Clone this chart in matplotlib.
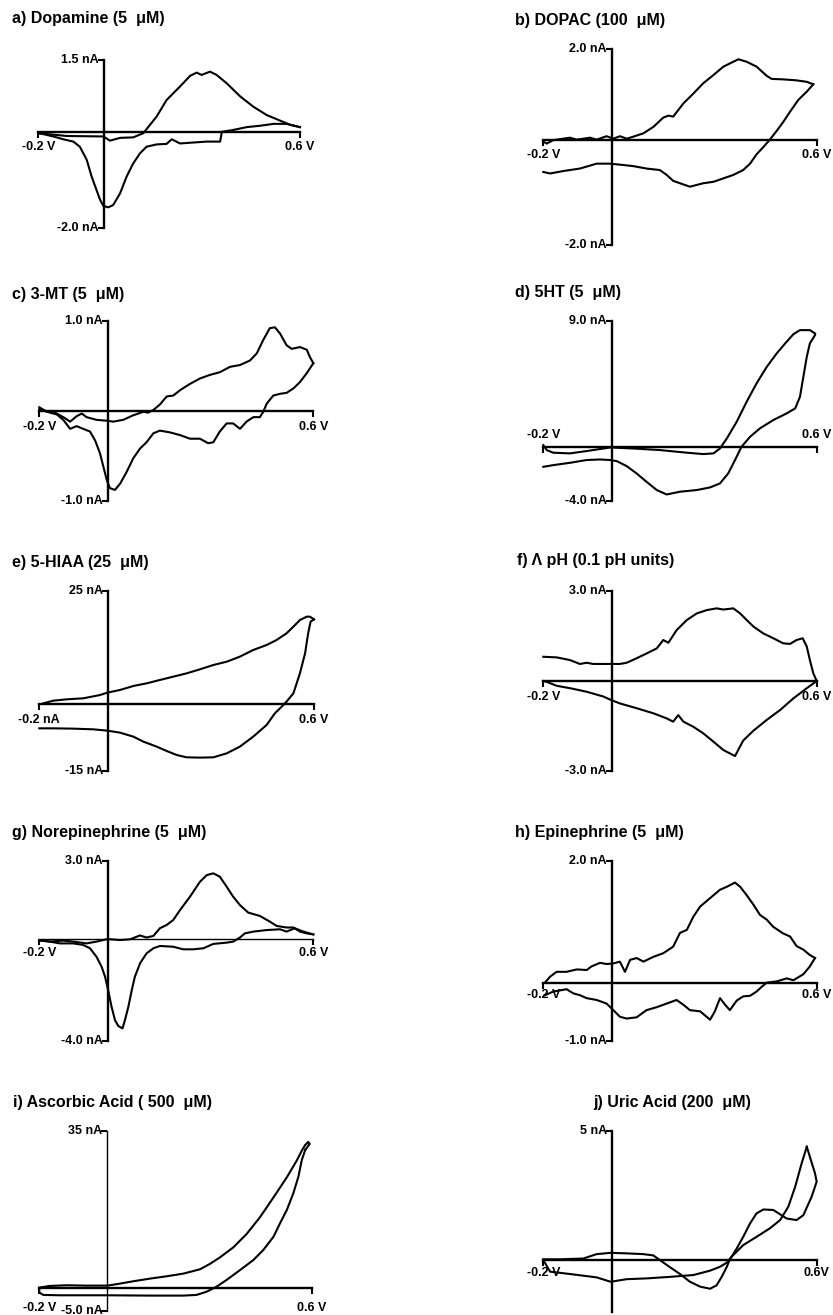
import matplotlib.pyplot as plt

W, H = 833, 1315
plt.rcParams['font.family'] = ['Liberation Sans', 'DejaVu Sans']

# cyclic voltammograms, (V, nA)
# a) dopamine
dopamine_ox = [(-0.2, -0.02), (-0.113, -0.08), (-0.001, -0.09), (0.019, -0.18), (0.05, -0.12),
               (0.09, -0.11), (0.121, -0.02), (0.162, 0.34), (0.192, 0.69), (0.233, 0.98),
               (0.264, 1.21), (0.284, 1.28), (0.299, 1.23), (0.325, 1.30), (0.345, 1.23),
               (0.376, 1.05), (0.417, 0.77), (0.457, 0.55), (0.498, 0.37), (0.539, 0.25),
               (0.57, 0.16), (0.6, 0.11)]
dopamine_red = [(0.6, 0.11), (0.559, 0.18), (0.519, 0.18), (0.478, 0.14), (0.437, 0.11),
                (0.396, 0.05), (0.361, 0.01), (0.356, -0.20), (0.315, -0.20), (0.274, -0.22),
                (0.233, -0.24), (0.208, -0.15), (0.192, -0.25), (0.162, -0.26), (0.131, -0.31),
                (0.111, -0.45), (0.09, -0.67), (0.07, -0.95), (0.05, -1.31), (0.029, -1.56),
                (0.014, -1.61), (-0.001, -1.58), (-0.011, -1.45), (-0.022, -1.24), (-0.037, -0.95),
                (-0.052, -0.59), (-0.073, -0.31), (-0.093, -0.20), (-0.124, -0.15), (-0.154, -0.09),
                (-0.185, -0.04), (-0.2, -0.02)]

# b) DOPAC
dopac_ox = [(-0.2, -0.03), (-0.19, -0.07), (-0.171, 0.0), (-0.122, 0.05), (-0.102, 0.01),
            (-0.063, 0.05), (-0.044, 0.01), (-0.015, 0.08), (0.005, 0.03), (0.024, 0.08),
            (0.044, 0.03), (0.063, 0.07), (0.093, 0.14), (0.122, 0.27), (0.151, 0.46),
            (0.166, 0.50), (0.18, 0.48), (0.21, 0.75), (0.239, 0.95), (0.268, 1.16),
            (0.298, 1.33), (0.327, 1.50), (0.356, 1.60), (0.371, 1.65), (0.395, 1.60),
            (0.424, 1.50), (0.454, 1.31), (0.468, 1.25), (0.502, 1.24), (0.541, 1.22),
            (0.571, 1.19), (0.59, 1.14)]
dopac_red = [(0.59, 1.14), (0.571, 0.99), (0.546, 0.82), (0.522, 0.58), (0.502, 0.37),
             (0.483, 0.19), (0.463, 0.01), (0.444, -0.14), (0.424, -0.29), (0.405, -0.48),
             (0.385, -0.61), (0.356, -0.71), (0.327, -0.78), (0.298, -0.85), (0.268, -0.88),
             (0.229, -0.95), (0.2, -0.88), (0.18, -0.83), (0.161, -0.71), (0.141, -0.61),
             (0.102, -0.58), (0.063, -0.53), (0.024, -0.50), (-0.005, -0.48), (-0.044, -0.48),
             (-0.093, -0.58), (-0.141, -0.63), (-0.18, -0.68), (-0.2, -0.65)]

# c) 3-MT
mt_ox = [(-0.2, 0.04), (-0.179, -0.01), (-0.154, -0.02), (-0.13, -0.07), (-0.11, -0.12),
         (-0.091, -0.06), (-0.076, -0.03), (-0.062, -0.07), (-0.033, -0.10), (-0.003, -0.11),
         (0.016, -0.12), (0.045, -0.10), (0.074, -0.05), (0.104, -0.01), (0.118, -0.02),
         (0.133, 0.01), (0.152, 0.07), (0.172, 0.16), (0.191, 0.17), (0.211, 0.23),
         (0.24, 0.30), (0.269, 0.36), (0.298, 0.40), (0.327, 0.43), (0.357, 0.49),
         (0.386, 0.51), (0.415, 0.56), (0.435, 0.64), (0.454, 0.79), (0.473, 0.92),
         (0.488, 0.93), (0.503, 0.86), (0.522, 0.73), (0.537, 0.69), (0.561, 0.71),
         (0.581, 0.68), (0.59, 0.60), (0.6, 0.53)]
mt_red = [(0.6, 0.53), (0.581, 0.42), (0.561, 0.32), (0.542, 0.25), (0.522, 0.20),
          (0.503, 0.19), (0.483, 0.17), (0.464, 0.08), (0.454, -0.01), (0.444, -0.07),
          (0.425, -0.07), (0.405, -0.12), (0.386, -0.20), (0.366, -0.14), (0.347, -0.14),
          (0.327, -0.23), (0.308, -0.35), (0.293, -0.36), (0.269, -0.31), (0.24, -0.31),
          (0.211, -0.27), (0.182, -0.24), (0.152, -0.22), (0.133, -0.25), (0.113, -0.35),
          (0.094, -0.42), (0.074, -0.53), (0.055, -0.68), (0.036, -0.81), (0.021, -0.88),
          (0.006, -0.86), (-0.003, -0.77), (-0.013, -0.62), (-0.023, -0.47), (-0.037, -0.33),
          (-0.052, -0.23), (-0.072, -0.20), (-0.091, -0.17), (-0.11, -0.20), (-0.13, -0.10),
          (-0.149, -0.04), (-0.169, -0.02), (-0.188, 0.01), (-0.2, 0.02)]

# d) 5HT
ht_ox = [(-0.2, 0.12), (-0.19, -0.24), (-0.171, -0.43), (-0.122, -0.48), (-0.073, -0.31),
         (-0.003, -0.05), (0.073, -0.14), (0.141, -0.24), (0.22, -0.43), (0.268, -0.53),
         (0.298, -0.48), (0.317, -0.12), (0.337, 0.60), (0.366, 1.81), (0.395, 3.25),
         (0.424, 4.58), (0.454, 5.78), (0.483, 6.75), (0.512, 7.59), (0.532, 8.14),
         (0.551, 8.43), (0.58, 8.43), (0.595, 8.19)]
ht_red = [(0.595, 8.07), (0.58, 7.47), (0.571, 6.51), (0.561, 5.06), (0.551, 3.61),
          (0.537, 2.77), (0.512, 2.41), (0.473, 1.93), (0.434, 1.33), (0.405, 0.72),
          (0.38, 0.0), (0.361, -0.96), (0.341, -1.93), (0.317, -2.65), (0.288, -2.94),
          (0.249, -3.13), (0.2, -3.25), (0.161, -3.45), (0.132, -3.13), (0.102, -2.53),
          (0.073, -1.93), (0.044, -1.40), (0.015, -1.04), (-0.005, -0.96), (-0.034, -0.92),
          (-0.073, -0.96), (-0.122, -1.16), (-0.171, -1.33), (-0.2, -1.45)]

# e) 5-HIAA
hiaa_ox = [(-0.188, 0.15), (-0.159, 0.74), (-0.12, 1.04), (-0.072, 1.26), (-0.023, 2.00),
           (-0.002, 2.52), (0.035, 3.12), (0.074, 4.01), (0.113, 4.60), (0.151, 5.34),
           (0.19, 6.08), (0.229, 6.82), (0.268, 7.72), (0.307, 8.68), (0.346, 9.42),
           (0.384, 10.53), (0.423, 12.02), (0.462, 13.13), (0.491, 14.24), (0.52, 15.73),
           (0.54, 17.21), (0.559, 18.69), (0.579, 19.44), (0.588, 19.44), (0.6, 18.84)]
hiaa_red = [(0.6, 18.84), (0.59, 18.32), (0.583, 15.73), (0.574, 11.28), (0.559, 6.82),
            (0.54, 2.37), (0.52, 0.52), (0.506, -0.59), (0.486, -2.08), (0.462, -4.67),
            (0.423, -7.27), (0.384, -9.50), (0.346, -10.98), (0.307, -11.87), (0.268, -11.94),
            (0.229, -11.87), (0.2, -11.35), (0.171, -10.46), (0.142, -9.50), (0.103, -8.38),
            (0.074, -7.27), (0.035, -6.38), (-0.002, -5.93), (-0.043, -5.64), (-0.101, -5.49),
            (-0.159, -5.42), (-0.2, -5.42)]

# f) pH change
ph_up = [(-0.2, 0.81), (-0.161, 0.79), (-0.122, 0.70), (-0.093, 0.57), (-0.073, 0.61),
         (-0.054, 0.57), (-0.015, 0.57), (0.024, 0.57), (0.044, 0.61), (0.073, 0.76),
         (0.102, 0.92), (0.132, 1.09), (0.151, 1.37), (0.166, 1.28), (0.19, 1.70),
         (0.22, 2.04), (0.249, 2.26), (0.278, 2.37), (0.307, 2.43), (0.327, 2.39),
         (0.356, 2.43), (0.376, 2.26), (0.395, 2.04), (0.415, 1.82), (0.444, 1.59),
         (0.473, 1.43), (0.502, 1.26), (0.522, 1.24), (0.541, 1.37), (0.559, 1.43),
         (0.571, 1.15), (0.58, 0.70), (0.59, 0.26), (0.6, 0.0)]
ph_down = [(0.6, 0.0), (0.571, -0.24), (0.532, -0.58), (0.493, -0.97), (0.454, -1.30),
           (0.415, -1.66), (0.385, -1.99), (0.361, -2.51), (0.327, -2.31), (0.298, -2.03),
           (0.268, -1.75), (0.239, -1.53), (0.21, -1.36), (0.195, -1.14), (0.18, -1.36),
           (0.161, -1.25), (0.122, -1.08), (0.073, -0.91), (0.024, -0.75), (-0.003, -0.63),
           (-0.024, -0.52), (-0.073, -0.36), (-0.122, -0.24), (-0.161, -0.16), (-0.19, -0.03),
           (-0.2, 0.0)]

# g) norepinephrine
ne_ox = [(-0.2, -0.04), (-0.169, -0.10), (-0.13, -0.06), (-0.101, -0.10), (-0.062, -0.17),
         (-0.033, -0.10), (-0.001, 0.0), (0.036, -0.04), (0.065, -0.01), (0.094, 0.14),
         (0.113, 0.06), (0.133, 0.12), (0.152, 0.42), (0.172, 0.55), (0.191, 0.74),
         (0.211, 1.13), (0.24, 1.65), (0.269, 2.23), (0.289, 2.49), (0.308, 2.56),
         (0.327, 2.43), (0.347, 2.04), (0.366, 1.65), (0.386, 1.32), (0.41, 1.03),
         (0.444, 0.90), (0.473, 0.68), (0.493, 0.51), (0.522, 0.45), (0.542, 0.45),
         (0.561, 0.29), (0.581, 0.22), (0.6, 0.18)]
ne_red = [(0.6, 0.18), (0.571, 0.29), (0.546, 0.42), (0.522, 0.29), (0.503, 0.38),
          (0.464, 0.35), (0.425, 0.29), (0.4, 0.22), (0.386, 0.06), (0.366, -0.10),
          (0.347, -0.14), (0.308, -0.19), (0.279, -0.36), (0.25, -0.40), (0.22, -0.40),
          (0.191, -0.30), (0.152, -0.27), (0.133, -0.36), (0.113, -0.56), (0.094, -0.95),
          (0.079, -1.47), (0.07, -1.99), (0.06, -2.64), (0.05, -3.16), (0.043, -3.48),
          (0.031, -3.39), (0.021, -3.16), (0.011, -2.64), (0.001, -1.99), (-0.008, -1.47),
          (-0.018, -1.08), (-0.033, -0.69), (-0.052, -0.36), (-0.072, -0.23), (-0.101, -0.17),
          (-0.14, -0.17), (-0.169, -0.10), (-0.2, -0.06)]

# h) epinephrine
epi_ox = [(-0.195, 0.0), (-0.18, 0.10), (-0.161, 0.18), (-0.132, 0.18), (-0.102, 0.22),
          (-0.073, 0.21), (-0.059, 0.27), (-0.034, 0.33), (-0.015, 0.31), (0.005, 0.32),
          (0.024, 0.35), (0.039, 0.18), (0.054, 0.38), (0.073, 0.41), (0.093, 0.35),
          (0.122, 0.43), (0.151, 0.49), (0.18, 0.60), (0.2, 0.83), (0.22, 0.88),
          (0.239, 1.10), (0.259, 1.27), (0.288, 1.41), (0.317, 1.55), (0.337, 1.60),
          (0.361, 1.67), (0.376, 1.60), (0.395, 1.46), (0.415, 1.30), (0.434, 1.13),
          (0.454, 1.05), (0.473, 0.93), (0.502, 0.82), (0.522, 0.77), (0.541, 0.61),
          (0.561, 0.55), (0.58, 0.46), (0.595, 0.41)]
epi_red = [(0.595, 0.41), (0.58, 0.27), (0.561, 0.14), (0.532, 0.04), (0.512, 0.07),
           (0.483, 0.02), (0.454, 0.0), (0.439, -0.07), (0.424, -0.15), (0.405, -0.22),
           (0.385, -0.23), (0.366, -0.30), (0.346, -0.46), (0.332, -0.37), (0.317, -0.26),
           (0.302, -0.48), (0.288, -0.62), (0.259, -0.48), (0.229, -0.46), (0.21, -0.37),
           (0.19, -0.29), (0.161, -0.35), (0.132, -0.41), (0.102, -0.46), (0.073, -0.58),
           (0.044, -0.60), (0.024, -0.57), (0.005, -0.46), (-0.015, -0.35), (-0.044, -0.29),
           (-0.073, -0.26), (-0.093, -0.21), (-0.112, -0.18), (-0.132, -0.11), (-0.151, -0.13),
           (-0.171, -0.15), (-0.195, -0.21)]

# i) ascorbic acid
aa_ox = [(-0.2, 0.15), (-0.169, 0.52), (-0.12, 0.67), (-0.061, 0.59), (0.0, 0.59),
         (0.037, 1.04), (0.076, 1.56), (0.125, 2.15), (0.174, 2.67), (0.223, 3.26),
         (0.272, 4.23), (0.301, 5.42), (0.331, 6.90), (0.37, 9.12), (0.409, 12.09),
         (0.448, 15.80), (0.488, 20.25), (0.527, 24.70), (0.556, 28.41), (0.571, 30.64),
         (0.581, 31.90), (0.59, 32.57), (0.594, 32.12), (0.581, 30.79)]
aa_red = [(0.581, 30.79), (0.571, 28.56), (0.561, 24.85), (0.546, 21.14), (0.527, 17.43),
          (0.507, 14.47), (0.488, 11.50), (0.458, 8.53), (0.429, 6.31), (0.39, 4.08),
          (0.35, 1.85), (0.321, 0.37), (0.292, -0.74), (0.262, -1.48), (0.223, -1.63),
          (0.125, -1.63), (0.0, -1.56), (-0.071, -1.56), (-0.139, -1.56), (-0.188, -1.48),
          (-0.2, -0.96), (-0.2, -0.22)]

# j) uric acid
ua_ox = [(-0.2, 0.03), (-0.151, 0.03), (-0.083, 0.06), (-0.044, 0.23), (-0.003, 0.28),
         (0.044, 0.26), (0.093, 0.23), (0.122, 0.18), (0.141, 0.0), (0.171, -0.28),
         (0.2, -0.54), (0.229, -0.84), (0.259, -1.03), (0.288, -1.11), (0.307, -0.98),
         (0.322, -0.65), (0.337, -0.26), (0.346, 0.03), (0.366, 0.45), (0.385, 0.90),
         (0.405, 1.42), (0.424, 1.81), (0.444, 1.96), (0.473, 1.94), (0.512, 1.61),
         (0.541, 1.55), (0.561, 1.74), (0.585, 2.45), (0.6, 3.04), (0.595, 3.36),
         (0.571, 4.39)]
ua_red = [(0.571, 4.39), (0.556, 3.75), (0.537, 2.84), (0.517, 2.07), (0.493, 1.55),
          (0.463, 1.23), (0.424, 0.90), (0.385, 0.58), (0.351, 0.13), (0.337, -0.10),
          (0.317, -0.26), (0.288, -0.41), (0.239, -0.58), (0.171, -0.65), (0.102, -0.71),
          (0.044, -0.74), (-0.003, -0.84), (-0.044, -0.67), (-0.122, -0.54), (-0.18, -0.45),
          (-0.2, 0.0)]

# layout in pixels: title pos, axes box (x left, x right, y top, y bottom), y limits
panels = [
    dict(title='a) Dopamine (5  μM)', tpos=(12, 18), box=(38.3, 300, 60, 228.3), ylim=(-2.06, 1.55),
         ylab=('1.5 nA', '-2.0 nA'), xlab=('-0.2 V', '0.6 V'), xdy=15, curves=[dopamine_ox, dopamine_red]),
    dict(title='b) DOPAC (100  μM)', tpos=(515, 20), box=(543.3, 816.7, 49, 245), ylim=(-2.14, 1.86),
         ylab=('2.0 nA', '-2.0 nA'), xlab=('-0.2 V', '0.6 V'), xdy=15, curves=[dopac_ox, dopac_red]),
    dict(title='c) 3-MT (5  μM)', tpos=(12, 295), box=(39.3, 313.3, 321, 500.7), ylim=(-1.0, 1.0),
         ylab=('1.0 nA', '-1.0 nA'), xlab=('-0.2 V', '0.6 V'), xdy=16, curves=[mt_ox, mt_red]),
    dict(title='d) 5HT (5  μM)', tpos=(515, 292), box=(543.3, 816.7, 321, 500.7), ylim=(-3.9, 9.09),
         ylab=('9.0 nA', '-4.0 nA'), xlab=('-0.2 V', '0.6 V'), xdy=-12, curves=[ht_ox, ht_red]),
    dict(title='e) 5-HIAA (25  μM)', tpos=(12, 563), box=(39.3, 314, 591, 770.7), ylim=(-14.85, 25.15),
         ylab=('25 nA', '-15 nA'), xlab=('-0.2 nA', '0.6 V'), xdy=16, curves=[hiaa_ox, hiaa_red]),
    dict(title='f) Λ pH (0.1 pH units)', tpos=(517, 560), box=(543.3, 816.7, 591, 770.7), ylim=(-3.0, 3.01),
         ylab=('3.0 nA', '-3.0 nA'), xlab=('-0.2 V', '0.6 V'), xdy=16, curves=[ph_up, ph_down]),
    dict(title='g) Norepinephrine (5  μM)', tpos=(12, 833), box=(39.3, 313.3, 861, 1040.7), ylim=(-3.96, 3.04),
         ylab=('3.0 nA', '-4.0 nA'), xlab=('-0.2 V', '0.6 V'), xdy=14, curves=[ne_ox, ne_red], hlw=1.0),
    dict(title='h) Epinephrine (5  μM)', tpos=(515, 832), box=(543.3, 816.7, 861, 1040.7), ylim=(-0.97, 2.03),
         ylab=('2.0 nA', '-1.0 nA'), xlab=('-0.2 V', '0.6 V'), xdy=12, curves=[epi_ox, epi_red]),
    dict(title='i) Ascorbic Acid ( 500  μM)', tpos=(13, 1103), box=(39.3, 311.7, 1131, 1310.7), ylim=(-4.99, 35.0),
         ylab=('35 nA', '-5.0 nA'), xlab=('-0.2 V', '0.6 V'), xdy=20, curves=[aa_ox, aa_red], vlw=1.0),
    dict(title='j) Uric Acid (200  μM)', tpos=(593, 1103), box=(543.3, 816.7, 1131, 1311.7), ylim=(-2.0, 5.0),
         ylab=('5 nA', None), xlab=('-0.2 V', '0.6V'), xdy=13, curves=[ua_ox, ua_red]),
]

fig = plt.figure(figsize=(W / 100, H / 100), dpi=100)
px = 72 / 100  # points per pixel
lab_kw = dict(fontsize=9, fontweight='bold', textcoords='offset points')

for p in panels:
    x0, x1, yt, yb = p['box']
    ax = fig.add_axes([x0 / W, 1 - yb / H, (x1 - x0) / W, (yb - yt) / H])
    ax.set_xlim(-0.2, 0.6)
    ax.set_ylim(*p['ylim'])
    ax.patch.set_visible(False)

    for c in p['curves']:
        v, cur = zip(*c)
        ax.plot(v, cur, color='black', lw=1.5, clip_on=False, solid_joinstyle='round')

    # axes crossing at the origin
    for side in ('top', 'right'):
        ax.spines[side].set_visible(False)
    ax.spines['left'].set_position(('data', 0))
    ax.spines['bottom'].set_position(('data', 0))
    ax.spines['left'].set_linewidth(p.get('vlw', 1.7))
    ax.spines['bottom'].set_linewidth(p.get('hlw', 1.7))
    ax.set_xticks([-0.2, 0.6])
    ytk = [p['ylim'][1]] if p['ylab'][1] is None else [p['ylim'][0], p['ylim'][1]]
    ax.set_yticks(ytk)
    ax.tick_params(direction='out', length=4, width=1.5, labelbottom=False, labelleft=False)

    top_lab, bot_lab = p['ylab']
    ax.annotate(top_lab, (0, p['ylim'][1]), xytext=(-5 * px, 0), ha='right', va='center', **lab_kw)
    if bot_lab:
        ax.annotate(bot_lab, (0, p['ylim'][0]), xytext=(-5 * px, 0), ha='right', va='center', **lab_kw)
    ax.annotate(p['xlab'][0], (-0.2, 0), xytext=(0, -p['xdy'] * px), ha='center', va='center', **lab_kw)
    ax.annotate(p['xlab'][1], (0.6, 0), xytext=(0, -p['xdy'] * px), ha='center', va='center', **lab_kw)

    fig.text(p['tpos'][0] / W, 1 - p['tpos'][1] / H, p['title'], ha='left', va='center',
             fontsize=11.5, fontweight='bold')

fig.savefig('out.png', dpi=100)
